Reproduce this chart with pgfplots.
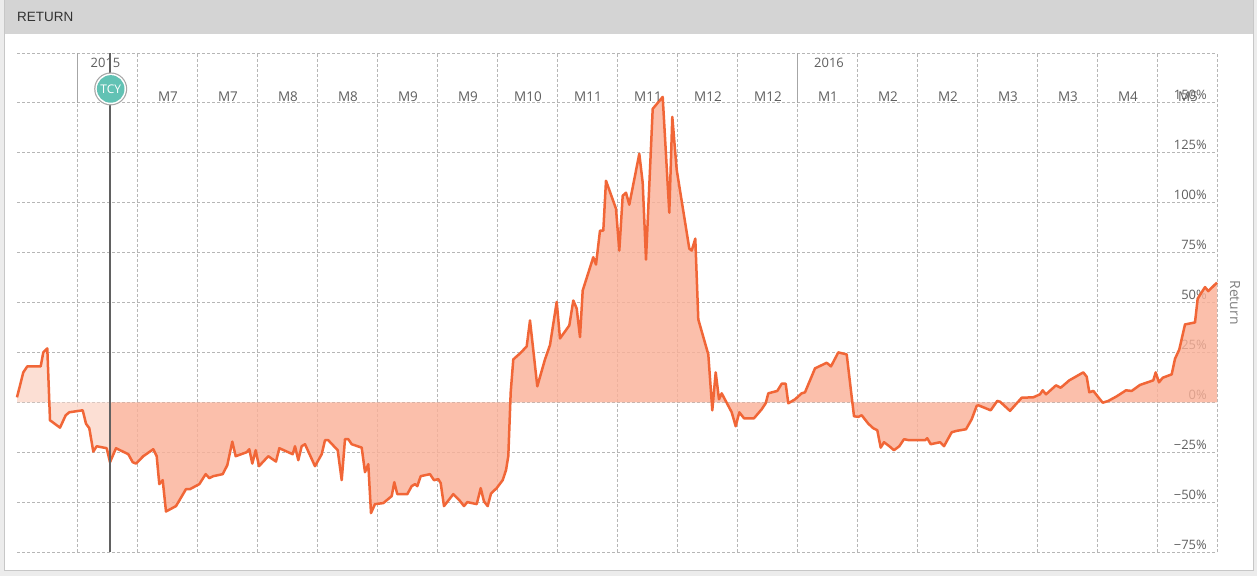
\documentclass[border=0pt]{standalone}
\usepackage{fontspec}
\setmainfont{Open Sans}
\newfontfamily\hdrfont{Liberation Sans}
\usepackage{pgfplots}
\usepackage{pgfplotstable}
\pgfplotsset{compat=1.18}
\definecolor{linec}{RGB}{241,102,55}
\definecolor{fillc}{RGB}{251,176,151}
\definecolor{fillL}{RGB}{252,215,202}
\definecolor{gridc}{RGB}{182,182,182}
\definecolor{tcyc}{RGB}{98,194,180}
\definecolor{hdr}{RGB}{212,212,212}
\definecolor{outerc}{RGB}{236,236,236}
\definecolor{lblc}{RGB}{95,95,95}

\pgfplotstableread{
x y
17 2.5
23.3 15
27.3 18
40.7 18
43.3 25
47.3 27
50 -9
60 -12.7
65.7 -6.5
69.3 -5
82.7 -4
86 -10.7
89.3 -13
93.3 -24.7
96.7 -22
106.7 -23
110 -30
116 -23
128.3 -26
132.7 -30
136 -30.7
143.3 -27
153.3 -23.5
156.7 -27
159.3 -41
162.7 -39
166 -54.7
176 -52
186 -43.5
190 -43.5
199.3 -41
205.7 -36
209.3 -38
213.3 -37
222.7 -36
227.3 -31.5
232.3 -19.7
235.7 -27
246.7 -25
249.3 -23.5
252.3 -30.7
255.7 -24
259 -32
268.3 -27
276 -29.7
279.3 -23
292.7 -26
295 -22
298.3 -29
301.7 -22
305 -21
315 -32
321.7 -26
325 -19
328.3 -19
337.7 -24
341.7 -39
345 -18.5
348.3 -18.5
351.7 -21
361.7 -22.7
365 -35
368.3 -31
371 -55.5
375 -51
383.3 -50.5
391.7 -47
394.3 -40
397.3 -46
407.3 -46
411.7 -42
415 -41
417.3 -42
420.7 -37
430 -36
434 -39
438.3 -38.5
440.7 -40.5
444 -52
453.3 -46
459.3 -49
464 -52
467.3 -50
476.7 -51
480.7 -43
484 -49.7
487.7 -52
491 -45.7
496.7 -43
502.7 -39
506 -34
508.3 -27
510.7 5
513.3 21.5
520 24.5
526.7 28
530 41
537.3 8
545 21.5
550 28.7
556.7 50.3
560 32
569.3 38.5
573.3 51
576.7 47
580 32.7
582.7 56
593.3 72.7
596 69
600 86
603.3 86
606 111
616 97
619.3 76
622.7 103.5
626 105
629.3 99
639.3 124.5
642.7 110
646 71.5
652.7 147
662.7 153
669.3 95
672.3 143
676.7 116.5
689.3 77
691.7 76
695.3 82
698.3 41.5
708.3 24
712.3 -4
715.7 15
719 1.5
721.7 4.5
731.7 -5
735.7 -12
739.3 -5
744 -8
754 -8
761.7 -3.5
765.7 -0.5
768.3 4.5
777.3 5.7
781.7 9.3
785.7 9.3
788.3 -0.5
795 1.5
801.7 4.5
805 5
815 17
826.7 19.8
831 18
838.3 25
846.7 24
854 -7
858.3 -7.3
861.7 -6.5
868.3 -10.7
873.3 -13
877.3 -14
880.7 -22.7
884 -20
889.3 -22
894 -24
899.3 -22
904 -18.5
909.3 -19
925 -19
927.3 -18
930.7 -21
940 -20
944 -22
951.7 -15
956.7 -14.3
966 -13.5
971.7 -8.5
976.7 -1.8
978.3 -1.5
990.7 -4
997.3 0.7
1000 0.3
1010 -4.3
1021.7 2.3
1033.3 2.5
1040 4
1042.7 6
1046 4
1056 8.5
1060.7 7.3
1069.3 11
1083.3 15
1086.7 12.8
1089.3 5
1093.3 5.7
1102.7 -0.2
1108.3 0.7
1116.7 3
1126 6
1131.7 5.7
1140 8.7
1153.3 11
1155.7 15
1159 10
1162.7 12.3
1171.7 14
1175 21.8
1179.3 26.5
1185 39
1195 40
1197.7 52
1205 57.7
1208.3 55.7
1217 60
}\ret

\begin{document}
\begin{tikzpicture}
\fill[outerc] (0,0) rectangle (1257bp,-576bp);
\filldraw[fill=white, draw=black!22] (4.5bp,-0.5bp) rectangle (1253.5bp,-570bp);
\fill[hdr] (5bp,0) rectangle (1253bp,-33.5bp);
\node[anchor=west, inner sep=0pt, text=black!80, font=\hdrfont\fontsize{13.5}{16}\selectfont] at (17bp,-16.5bp) {RETURN};

\begin{axis}[
  at={(17bp,-552bp)}, anchor=south west,
  scale only axis, width=1200bp, height=499bp,
  xmin=17, xmax=1217, ymin=-75, ymax=175,
  axis line style={draw=none},
  xtick={77,137,197,257,317,377,437,497,557,617,677,737,797,857,917,977,1037,1097,1157,1217},
  xticklabels={},
  ytick={-75,-50,-25,0,25,50,75,100,125,150,175},
  yticklabels={−75\%,−50\%,−25\%,0\%,25\%,50\%,75\%,100\%,125\%,150\%,{}},
  yticklabel pos=right,
  yticklabel style={anchor=base east, inner sep=0pt, xshift=-10bp, yshift=3bp,
     font=\fontsize{13}{15}\selectfont, text=lblc},
  major tick length=0pt,
  grid=major,
  grid style={draw=gridc, line width=0.9bp, dash pattern=on 3bp off 2bp},
  clip=false,
]
\addplot[fill=fillL, fill opacity=0.8, draw=none]
  table[x=x, y=y, restrict x to domain=17:110] {\ret} \closedcycle;
\addplot[fill=fillc, fill opacity=0.8, draw=none]
  table[x=x, y=y, restrict x to domain=110:1218] {\ret} \closedcycle;
\addplot[color=linec, line width=2.5bp, line join=round, mark=none] table[x=x, y=y] {\ret};

\draw[black!35, line width=0.9bp] (axis cs:77,175) -- (axis cs:77,150);
\draw[black!35, line width=0.9bp] (axis cs:797,175) -- (axis cs:797,150);

\node[anchor=base, inner sep=0pt, text=lblc, font=\fontsize{13}{15}\selectfont] at (axis cs:105.5,167.5) {2015};
\node[anchor=base, inner sep=0pt, text=lblc, font=\fontsize{13}{15}\selectfont] at (axis cs:829,167.5) {2016};
\node[anchor=base, inner sep=0pt, text=lblc, font=\fontsize{13.5}{15}\selectfont] at (axis cs:168,150.5) {M7};
\node[anchor=base, inner sep=0pt, text=lblc, font=\fontsize{13.5}{15}\selectfont] at (axis cs:228,150.5) {M7};
\node[anchor=base, inner sep=0pt, text=lblc, font=\fontsize{13.5}{15}\selectfont] at (axis cs:288,150.5) {M8};
\node[anchor=base, inner sep=0pt, text=lblc, font=\fontsize{13.5}{15}\selectfont] at (axis cs:348,150.5) {M8};
\node[anchor=base, inner sep=0pt, text=lblc, font=\fontsize{13.5}{15}\selectfont] at (axis cs:408,150.5) {M9};
\node[anchor=base, inner sep=0pt, text=lblc, font=\fontsize{13.5}{15}\selectfont] at (axis cs:468,150.5) {M9};
\node[anchor=base, inner sep=0pt, text=lblc, font=\fontsize{13.5}{15}\selectfont] at (axis cs:528,150.5) {M10};
\node[anchor=base, inner sep=0pt, text=lblc, font=\fontsize{13.5}{15}\selectfont] at (axis cs:588,150.5) {M11};
\node[anchor=base, inner sep=0pt, text=lblc, font=\fontsize{13.5}{15}\selectfont] at (axis cs:648,150.5) {M11};
\node[anchor=base, inner sep=0pt, text=lblc, font=\fontsize{13.5}{15}\selectfont] at (axis cs:708,150.5) {M12};
\node[anchor=base, inner sep=0pt, text=lblc, font=\fontsize{13.5}{15}\selectfont] at (axis cs:768,150.5) {M12};
\node[anchor=base, inner sep=0pt, text=lblc, font=\fontsize{13.5}{15}\selectfont] at (axis cs:828,150.5) {M1};
\node[anchor=base, inner sep=0pt, text=lblc, font=\fontsize{13.5}{15}\selectfont] at (axis cs:888,150.5) {M2};
\node[anchor=base, inner sep=0pt, text=lblc, font=\fontsize{13.5}{15}\selectfont] at (axis cs:948,150.5) {M2};
\node[anchor=base, inner sep=0pt, text=lblc, font=\fontsize{13.5}{15}\selectfont] at (axis cs:1008,150.5) {M3};
\node[anchor=base, inner sep=0pt, text=lblc, font=\fontsize{13.5}{15}\selectfont] at (axis cs:1068,150.5) {M3};
\node[anchor=base, inner sep=0pt, text=lblc, font=\fontsize{13.5}{15}\selectfont] at (axis cs:1128,150.5) {M4};
\node[anchor=base, inner sep=0pt, text=lblc, font=\fontsize{13.5}{15}\selectfont] at (axis cs:1188,150.5) {M5};

\draw[black!62, line width=2.5bp] (axis cs:110,175) -- (axis cs:110,-75);
\fill[black!35] (axis cs:110.7,157) circle[radius=16.5bp];
\fill[white] (axis cs:110.7,157) circle[radius=15.3bp];
\fill[tcyc] (axis cs:110.7,157) circle[radius=13.8bp];
\node[text=white, inner sep=0pt, font=\fontsize{12}{14}\selectfont] at (axis cs:110.7,157) {TCY};
\end{axis}

\node[rotate=-90, inner sep=0pt, text=black!50, font=\fontsize{14}{16}\selectfont] at (1235bp,-302.5bp) {Return};
\end{tikzpicture}
\end{document}
